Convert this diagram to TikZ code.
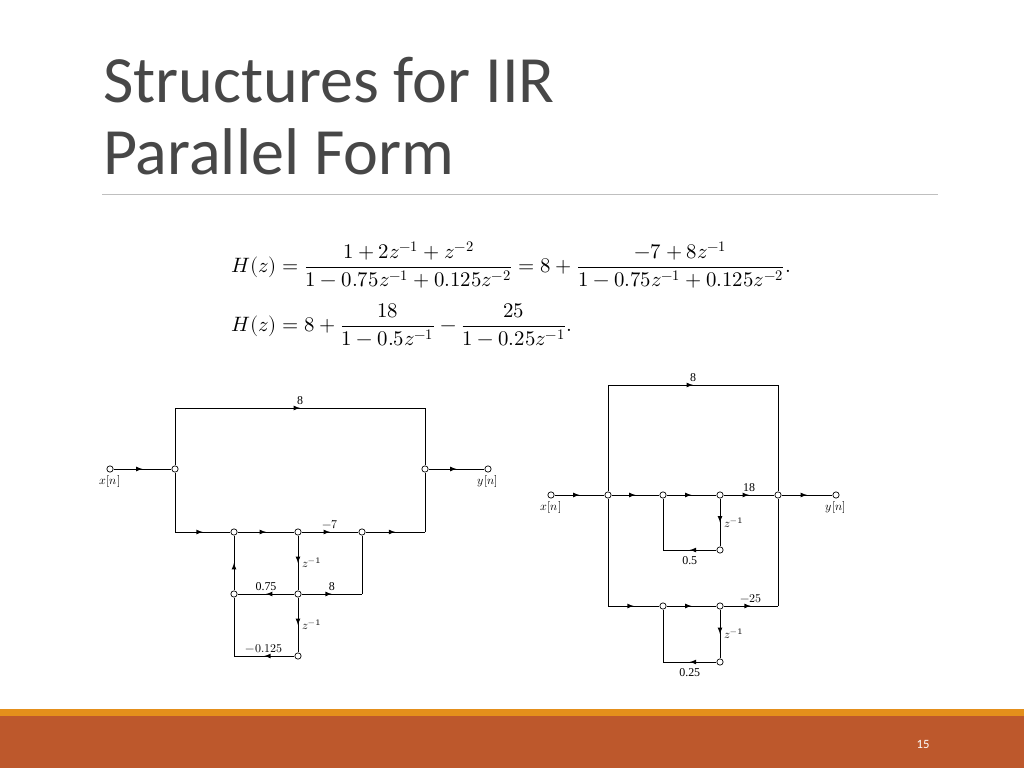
\documentclass[tikz,border=0pt]{standalone}
\usepackage{fontspec}
\setmainfont{Carlito}
\newfontfamily\diagfont{Liberation Serif}
\usepackage{unicode-math}
\setmathfont{Latin Modern Math}
\usetikzlibrary{decorations.markings}

\definecolor{titlegray}{HTML}{474747}
\definecolor{barorange}{HTML}{BD582C}
\definecolor{stripe}{HTML}{E48F1B}

\tikzset{
	nd/.style={circle,draw,fill=white,inner sep=0pt,minimum size=4.5pt,line width=0.5pt},
	ar/.style={postaction={decorate,decoration={markings,mark=at position 0.5 with {\arrow{latex}}}}},
	lbl/.style={font=\diagfont\fontsize{8.5}{9}\selectfont,inner sep=1pt}
}

\begin{document}
\begin{tikzpicture}[x=0.025cm,y=-0.025cm,line width=0.6pt]
	\useasboundingbox (0,0) rectangle (1024,768);
	%title
	\node[anchor=west,text=titlegray,font=\fontsize{47}{51}\selectfont,align=left] (title) at (98,116)
		{Structures for IIR\\Parallel Form};
	\draw[gray!50,line width=0.5pt] (102,194) -- (938,194);
	%equations
	\node[anchor=west,font=\fontsize{14.8}{17}\selectfont] (eqa) at (226,265)
		{$H(z)=\dfrac{1+2z^{-1}+z^{-2}}{1-0.75z^{-1}+0.125z^{-2}}=8+\dfrac{-7+8z^{-1}}{1-0.75z^{-1}+0.125z^{-2}}.$};
	\node[anchor=west,font=\fontsize{14.8}{17}\selectfont] (eqb) at (226,325)
		{$H(z)=8+\dfrac{18}{1-0.5z^{-1}}-\dfrac{25}{1-0.25z^{-1}}.$};

	%left diagram
	\node[nd] (lx) at (110,469) {};
	\node[nd] (ls) at (175,469) {};
	\node[nd] (lo) at (425,469) {};
	\node[nd] (ly) at (488,469) {};
	\node[nd] (la) at (234,532) {};
	\node[nd] (lb) at (298,532) {};
	\node[nd] (lc) at (362,532) {};
	\node[nd] (ld) at (234,594) {};
	\node[nd] (le) at (298,594) {};
	\node[nd] (lf) at (298,656) {};
	\coordinate (lt1) at (175,408);
	\coordinate (lt2) at (425,408);
	\coordinate (lb1) at (175,532);
	\coordinate (lb2) at (425,532);
	\coordinate (lm) at (362,594);
	\coordinate (lg) at (234,656);
	\draw[ar] (lx) -- (ls);
	\draw (ls) -- (lt1);
	\draw[ar] (lt1) -- node[lbl,above=1pt]{8} (lt2);
	\draw (lt2) -- (lo);
	\draw (ls) -- (lb1);
	\draw[ar] (lb1) -- (la);
	\draw[ar] (la) -- (lb);
	\draw[ar] (lb) -- node[lbl,above=1pt]{$-7$} (lc);
	\draw[ar] (lc) -- (lb2);
	\draw (lb2) -- (lo);
	\draw[ar] (lo) -- (ly);
	\draw[ar] (lb) -- node[lbl,right=2pt]{$z^{-1}$} (le);
	\draw[ar] (le) -- node[lbl,above=1pt]{0.75} (ld);
	\draw[ar] (ld) -- (la);
	\draw[ar] (le) -- node[lbl,above=1pt]{8} (lm);
	\draw (lm) -- (lc);
	\draw[ar] (le) -- node[lbl,right=2pt]{$z^{-1}$} (lf);
	\draw[ar] (lf) -- node[lbl,above=1pt]{$-0.125$} (lg);
	\draw (lg) -- (ld);
	\node[lbl,below=1pt] at (lx.south) {$\boldsymbol{x}[n]$};
	\node[lbl,below=1pt] at (ly.south) {$\boldsymbol{y}[n]$};

	%right diagram
	\node[nd] (rx) at (551,495) {};
	\node[nd] (rs) at (608,495) {};
	\node[nd] (ro) at (778,495) {};
	\node[nd] (ry) at (836,495) {};
	\node[nd] (ra) at (663,495) {};
	\node[nd] (rb) at (720,495) {};
	\node[nd] (rc) at (720,550) {};
	\node[nd] (rd) at (663,606) {};
	\node[nd] (re) at (720,606) {};
	\node[nd] (rf) at (720,662) {};
	\coordinate (rt1) at (608,385);
	\coordinate (rt2) at (778,385);
	\coordinate (rc1) at (663,550);
	\coordinate (rb1) at (608,606);
	\coordinate (rb2) at (778,606);
	\coordinate (rf1) at (663,662);
	\draw[ar] (rx) -- (rs);
	\draw (rs) -- (rt1);
	\draw[ar] (rt1) -- node[lbl,above=1pt]{8} (rt2);
	\draw (rt2) -- (ro);
	\draw[ar] (rs) -- (ra);
	\draw[ar] (ra) -- (rb);
	\draw[ar] (rb) -- node[lbl,above=1pt]{18} (ro);
	\draw[ar] (ro) -- (ry);
	\draw[ar] (rb) -- node[lbl,right=2pt]{$z^{-1}$} (rc);
	\draw[ar] (rc) -- node[lbl,below=3pt]{0.5} (rc1);
	\draw (rc1) -- (ra);
	\draw (rs) -- (rb1);
	\draw[ar] (rb1) -- (rd);
	\draw[ar] (rd) -- (re);
	\draw[ar] (re) -- node[lbl,above=1pt]{$-25$} (rb2);
	\draw (rb2) -- (ro);
	\draw[ar] (re) -- node[lbl,right=2pt]{$z^{-1}$} (rf);
	\draw[ar] (rf) -- node[lbl,below=3pt]{0.25} (rf1);
	\draw (rf1) -- (rd);
	\node[lbl,below=1pt] at (rx.south) {$\boldsymbol{x}[n]$};
	\node[lbl,below=1pt] at (ry.south) {$\boldsymbol{y}[n]$};

	%footer
	\fill[stripe] (0,709) rectangle (1024,716);
	\fill[barorange] (0,716) rectangle (1024,768);
	\node[text=white,font=\fontsize{9}{10}\selectfont] (pg) at (923,744) {15};
\end{tikzpicture}
\end{document}
